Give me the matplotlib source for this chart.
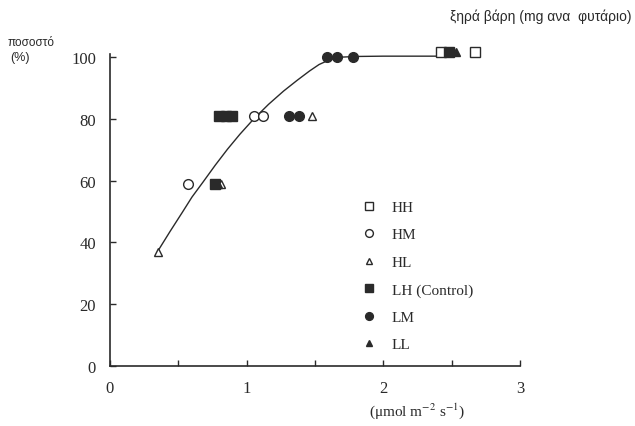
import matplotlib
matplotlib.use("Agg")
import matplotlib.pyplot as plt

plt.rcParams["mathtext.fontset"] = "stix"

# --- data ---
hh_x = [2.42, 2.67]
hh_y = [101.5, 101.5]
hm_x = [0.57, 1.05, 1.12]
hm_y = [59, 81, 81]
hl_x = [0.35, 0.81, 1.48]
hl_y = [37, 59, 81]
lh_x = [0.77, 0.80, 0.85, 0.89, 2.48]
lh_y = [59, 81, 81, 81, 101.5]
lm_x = [1.31, 1.38, 1.59, 1.66, 1.78]
lm_y = [81, 81, 100, 100, 100]
ll_x = [0.79, 2.53]
ll_y = [59, 101.5]

# fitted curve, traced point by point
curve_x = [0.35, 0.44, 0.53, 0.60, 0.68, 0.77, 0.86, 0.95, 1.05, 1.16, 1.27,
           1.37, 1.46, 1.53, 1.61, 1.70, 1.80, 2.00, 2.45]
curve_y = [37.2, 43.6, 49.8, 54.7, 59.5, 65.0, 70.2, 75.0, 79.9, 84.7, 89.0,
           92.5, 95.5, 97.6, 99.2, 100.0, 100.2, 100.3, 100.3]

ink = "#2a2a2a"
serif = ["Liberation Serif", "DejaVu Serif"]
sans = ["Liberation Sans", "DejaVu Sans"]

fig = plt.figure(figsize=(6.35, 4.27), dpi=100)
ax = fig.add_axes([110 / 635, 1 - 367 / 427, 410 / 635, 312 / 427])

ax.plot(curve_x, curve_y, color=ink, lw=1.0, zorder=1, clip_on=False)

ms = 7
kw = dict(ls="none", ms=ms, mew=1.0, zorder=3, clip_on=False)
ax.plot(hh_x, hh_y, "s", mfc="white", mec=ink, label="HH", **kw)
ax.plot(lh_x, lh_y, "s", mfc=ink, mec=ink, label="LH (Control)", **kw)
ax.plot(hm_x, hm_y, "o", mfc="white", mec=ink, label="HM", **kw)
ax.plot(hl_x, hl_y, "^", mfc="white", mec=ink, label="HL", ms=6, ls="none",
        mew=1.0, zorder=3, clip_on=False)
ax.plot(lm_x, lm_y, "o", mfc=ink, mec=ink, label="LM", **kw)
ax.plot(ll_x, ll_y, "^", mfc=ink, mec=ink, label="LL", ms=6, ls="none",
        mew=1.0, zorder=4, clip_on=False)

ax.set_xlim(0, 3)
ax.set_ylim(0, 101)
ax.set_xticks([0, 1, 2, 3])
ax.set_xticks([0.5, 1.5, 2.5], minor=True)
ax.set_yticks([0, 20, 40, 60, 80, 100])
ax.spines[["top", "right"]].set_visible(False)
for s in ["left", "bottom"]:
    ax.spines[s].set_color(ink)
    ax.spines[s].set_linewidth(1.2)
ax.tick_params(axis="both", which="both", direction="in", color=ink, length=4, width=1.0)
ax.tick_params(axis="both", which="major", labelsize=12, labelcolor=ink, pad=10)
for lbl in ax.get_xticklabels() + ax.get_yticklabels():
    lbl.set_family(serif)

# legend, order as in the picture
handles, labels = ax.get_legend_handles_labels()
order = ["HH", "HM", "HL", "LH (Control)", "LM", "LL"]
hmap = dict(zip(labels, handles))
leg = ax.legend([hmap[k] for k in order], order, loc="upper left",
                bbox_to_anchor=(0.56, 0.575), frameon=False,
                prop={"family": serif, "size": 11}, labelspacing=0.9,
                handletextpad=0.5, markerscale=0.8)
for t in leg.get_texts():
    t.set_color(ink)

ax.set_xlabel("(μmol m$^{-2}$ s$^{-1}$)", family=serif, fontsize=11, color=ink)
ax.xaxis.set_label_coords(0.75, -0.11)

fig.text(8 / 635, 1 - 43 / 427, "ποσοστό", family=sans, fontsize=8.5, color=ink, va="center")
fig.text(10 / 635, 1 - 58 / 427, "(%)", family=sans, fontsize=9, color=ink, va="center")
fig.text(632 / 635, 1 - 17 / 427, "ξηρά βάρη (mg ανα  φυτάριο)", family=sans,
         fontsize=10, color=ink, ha="right", va="center")

fig.savefig("out.png", dpi=100)
